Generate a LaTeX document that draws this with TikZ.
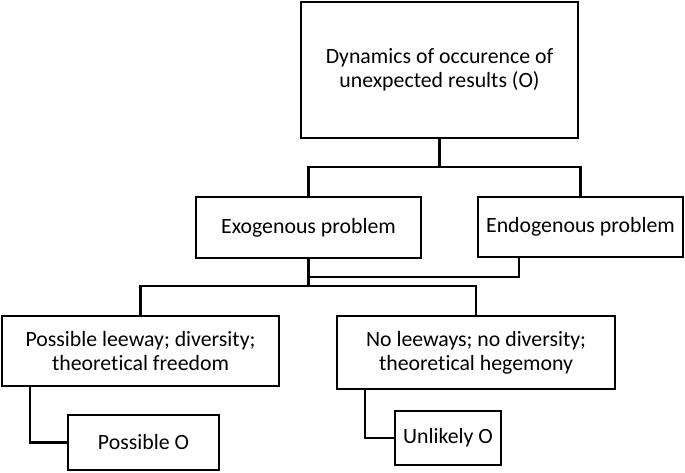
\documentclass[tikz,border=0pt]{standalone}
\usepackage{fontspec}
\setmainfont[Ligatures=NoCommon]{Carlito}
\usepackage{tikz}

\tikzset{
	box/.style = {draw, line width=2.2pt, inner sep=0pt, outer sep=0pt, align=center,
		font=\fontsize{21.8}{24}\selectfont},
	link/.style = {line width=2.2pt}
}

\begin{document}
\begin{tikzpicture}[x=1pt, y=-1pt]
	\useasboundingbox (0,0) rectangle (685,472);

	\node[box, minimum width=277pt, minimum height=136pt] (dyn) at (439.5,70) {Dynamics of occurence of\\unexpected results (O)};
	\node[box, minimum width=225pt, minimum height=61pt] (exo) at (308.5,227.5) {Exogenous problem};
	\node[box, minimum width=205pt, minimum height=60pt] (endo) at (580.5,227) {Endogenous problem};
	\node[box, minimum width=277pt, minimum height=70pt] (leeway) at (140.5,351) {Possible leeway; diversity;\\theoretical freedom};
	\node[box, minimum width=278pt, minimum height=73pt] (noleeway) at (476,352.5) {No leeways; no diversity;\\theoretical hegemony};
	\node[box, minimum width=151pt, minimum height=55pt] (possO) at (143.5,442.5) {Possible O};
	\node[box, minimum width=106pt, minimum height=54pt] (unlikO) at (448,438) {Unlikely O};

	\coordinate (split1) at (439.5,167);
	\coordinate (join) at (308.5,277);
	\coordinate (split2) at (308.5,286);

	\draw[link] (dyn.south) -- (split1);
	\draw[link] (exo.north) |- (split1) -| (endo.north);

	\draw[link] (exo.south) -- (split2);
	\draw[link] ([xshift=-61.5pt]endo.south) |- (join);
	\draw[link] (leeway.north) |- (split2) -| (noleeway.north);

	\draw[link] ([xshift=-110.5pt]leeway.south) |- (possO.west);
	\draw[link] ([xshift=-111pt]noleeway.south) |- (unlikO.west);
\end{tikzpicture}
\end{document}
